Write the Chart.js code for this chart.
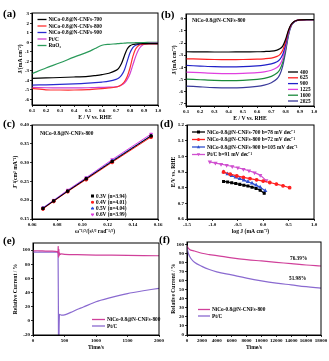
<!DOCTYPE html>
<html>
<head>
<meta charset="utf-8">
<script src="https://cdn.jsdelivr.net/npm/chart.js@4.4.0/dist/chart.umd.min.js"></script>
<style>
body { margin: 0; background: #fff; width: 329px; height: 361px; overflow: hidden; position: relative; }
canvas { position: absolute; left: 0; top: 0; }
</style>
</head>
<body>
<canvas id="pa" width="329" height="361"></canvas>
<canvas id="pb" width="329" height="361"></canvas>
<canvas id="pc" width="329" height="361"></canvas>
<canvas id="pd" width="329" height="361"></canvas>
<canvas id="pe" width="329" height="361"></canvas>
<canvas id="pf" width="329" height="361"></canvas>
<script>
// (a) LSV curves
const A_E = [0.10, 0.20, 0.30, 0.40, 0.50, 0.55, 0.60, 0.65, 0.70, 0.72, 0.74, 0.76, 0.78, 0.80, 0.82, 0.84, 0.86, 0.88, 0.90, 0.95, 1.00]
const A_700 = [-3.80, -3.75, -3.70, -3.65, -3.58, -3.50, -3.40, -3.25, -2.95, -2.70, -2.20, -1.40, -0.70, -0.35, -0.22, -0.17, -0.15, -0.14, -0.13, -0.12, -0.12]
const A_800 = [-4.85, -5.00, -5.02, -5.02, -4.98, -4.92, -4.88, -4.80, -4.70, -4.62, -4.45, -4.15, -3.60, -2.70, -1.50, -0.70, -0.35, -0.22, -0.18, -0.17, -0.17]
const A_900 = [-4.50, -4.47, -4.43, -4.38, -4.30, -4.25, -4.18, -4.08, -3.90, -3.75, -3.45, -2.90, -2.00, -1.10, -0.55, -0.30, -0.20, -0.16, -0.15, -0.14, -0.14]
const A_PTC = [-4.75, -4.78, -4.80, -4.80, -4.78, -4.76, -4.74, -4.72, -4.68, -4.62, -4.50, -4.30, -3.90, -3.30, -2.40, -1.50, -0.80, -0.40, -0.18, -0.08, -0.06]
const A_RUO2 = [-3.30, -2.70, -2.15, -1.55, -1.00, -0.65, -0.30, -0.20, -0.15, -0.12, -0.10, -0.08, -0.06, -0.05, -0.04, -0.03, -0.02, -0.02, -0.01, 0.00, 0.00]
const A_XT = [0.1, 0.2, 0.3, 0.4, 0.5, 0.6, 0.7, 0.8, 0.9, 1.0]
const A_YT = [3, 2, 1, 0, -1, -2, -3, -4, -5, -6]

// (b) rotating speeds
const B_E = [0.10, 0.20, 0.30, 0.40, 0.50, 0.60, 0.65, 0.70, 0.74, 0.76, 0.78, 0.80, 0.82, 0.84, 0.86, 0.88, 0.90, 0.95, 1.00]
const B_400 = [-2.72, -2.73, -2.74, -2.74, -2.73, -2.72, -2.70, -2.67, -2.58, -2.48, -2.25, -1.70, -0.95, -0.45, -0.22, -0.12, -0.08, -0.06, -0.06]
const B_625 = [-3.30, -3.33, -3.36, -3.37, -3.36, -3.33, -3.30, -3.24, -3.10, -2.95, -2.60, -1.90, -1.00, -0.48, -0.23, -0.13, -0.08, -0.06, -0.06]
const B_900 = [-3.85, -3.90, -3.95, -3.97, -3.95, -3.88, -3.82, -3.72, -3.55, -3.35, -2.95, -2.15, -1.10, -0.50, -0.24, -0.13, -0.08, -0.06, -0.06]
const B_1225 = [-4.40, -4.45, -4.50, -4.52, -4.50, -4.45, -4.38, -4.25, -4.02, -3.78, -3.30, -2.35, -1.20, -0.52, -0.25, -0.14, -0.09, -0.06, -0.06]
const B_1600 = [-4.98, -5.03, -5.08, -5.10, -5.08, -5.00, -4.92, -4.75, -4.48, -4.18, -3.60, -2.55, -1.30, -0.55, -0.26, -0.14, -0.09, -0.06, -0.06]
const B_2025 = [-5.55, -5.62, -5.68, -5.70, -5.68, -5.58, -5.48, -5.28, -4.95, -4.60, -3.90, -2.75, -1.40, -0.58, -0.27, -0.15, -0.09, -0.06, -0.06]
const B_YT = [0, -1, -2, -3, -4, -5, -6, -7]

// (c) K-L plots
const C_W = [0.0687, 0.0772, 0.0883, 0.1030, 0.1236, 0.1545]
const C_03 = [0.178, 0.198, 0.224, 0.257, 0.303, 0.371]
const C_04 = [0.177, 0.197, 0.223, 0.255, 0.301, 0.368]
const C_05 = [0.179, 0.199, 0.225, 0.258, 0.305, 0.372]
const C_06 = [0.180, 0.200, 0.227, 0.260, 0.308, 0.376]
const C_XT = [0.06, 0.08, 0.10, 0.12, 0.14, 0.16]
const C_YT = [0.15, 0.20, 0.25, 0.30, 0.35, 0.40]

// (d) Tafel plots
const D_X700 = [-0.78, -0.70, -0.62, -0.54, -0.46, -0.38, -0.30, -0.22, -0.14, -0.06, 0.02]
const D_Y700 = [0.840, 0.836, 0.831, 0.826, 0.821, 0.816, 0.810, 0.803, 0.795, 0.784, 0.764]
const D_X800 = [-0.78, -0.65, -0.52, -0.39, -0.26, -0.13, 0.00, 0.13, 0.26, 0.39, 0.52]
const D_Y800 = [0.900, 0.886, 0.875, 0.866, 0.858, 0.850, 0.842, 0.833, 0.823, 0.812, 0.800]
const D_X900 = [-0.78, -0.70, -0.62, -0.54, -0.46, -0.38, -0.30, -0.22, -0.14, -0.06, 0.04]
const D_Y900 = [0.900, 0.887, 0.876, 0.866, 0.857, 0.848, 0.838, 0.828, 0.816, 0.802, 0.780]
const D_XPTC = [-1.05, -0.94, -0.83, -0.72, -0.61, -0.50, -0.39, -0.28, -0.17, -0.06, 0.06]
const D_YPTC = [0.965, 0.957, 0.950, 0.943, 0.935, 0.927, 0.918, 0.908, 0.896, 0.880, 0.845]
const D_XT = [-1.5, -1.0, -0.5, 0.0, 0.5, 1.0]
const D_YT = [0.6, 0.7, 0.8, 0.9, 1.0, 1.1, 1.2]

// (e) methanol tolerance
const E_T1 = [0, 100, 200, 300, 380, 395, 400, 405, 410, 415, 420, 430, 450, 500, 700, 1000, 1500, 2000]
const E_NICO = [99, 99, 98.5, 98.5, 98, 96, 105, 90, 101, 92, 96, 94, 94.5, 94, 93.5, 93, 92.5, 92]
const E_T2 = [0, 100, 200, 300, 380, 398, 405, 410, 420, 450, 500, 600, 700, 800, 1000, 1200, 1500, 1750, 2000]
const E_PTC = [97, 97, 97, 97, 97, 96, -40, -40, 9, 8, 8.5, 12, 16, 19.5, 27, 32, 38.5, 42.5, 46]
const E_XT = [0, 500, 1000, 1500, 2000]
const E_YT = [-20, 0, 20, 40, 60, 80, 100]

// (f) stability
const F_T = [0, 200, 500, 1000, 2000, 3000, 4000, 6000, 8000, 10000, 12000, 14000, 16000, 18000]
const F_NICO = [99, 96, 94, 93, 90.5, 89, 88, 85.5, 83.5, 82, 80.5, 79, 77.5, 76.4]
const F_PTC = [97, 90, 85, 80.5, 76, 72.5, 70, 66.5, 63, 60, 57.5, 55.5, 53.5, 52]
const F_XT = [0, 2000, 4000, 6000, 8000, 10000, 12000, 14000, 16000, 18000]
const F_YT = [0, 10, 20, 30, 40, 50, 60, 70, 80, 90, 100]

const FONT = "'Liberation Serif', 'Times New Roman', serif"
Chart.defaults.font.family = FONT
Chart.defaults.font.weight = 'bold'
Chart.defaults.font.size = 5
Chart.defaults.color = '#000'
Chart.defaults.animation = false

function pts(xs, ys) {
    return xs.map((x, i) => ({ x: x, y: ys[i] }))
}

function drawMark(ctx, style, x, y, r, color) {
    ctx.fillStyle = color
    ctx.beginPath()
    if (style == 'rect') {
        ctx.rect(x - r, y - r, 2 * r, 2 * r)
    } else if (style == 'circle') {
        ctx.arc(x, y, r, 0, Math.PI * 2)
    } else if (style == 'triangle') {
        ctx.moveTo(x, y - r * 1.2); ctx.lineTo(x + r * 1.1, y + r * 0.8); ctx.lineTo(x - r * 1.1, y + r * 0.8)
    } else if (style == 'triangleDown') {
        ctx.moveTo(x, y + r * 1.2); ctx.lineTo(x + r * 1.1, y - r * 0.8); ctx.lineTo(x - r * 1.1, y - r * 0.8)
    } else {
        return
    }
    ctx.closePath()
    ctx.fill()
}

const deco = {
    id: 'deco',
    afterDraw(chart, args, o) {
        const ctx = chart.ctx
        const a = chart.chartArea
        ctx.save()
        ctx.strokeStyle = '#000'
        ctx.lineWidth = 1
        ctx.strokeRect(a.left, a.top, a.right - a.left, a.bottom - a.top)
        ctx.fillStyle = '#000'
        ctx.textBaseline = 'middle'
        ctx.textAlign = 'left'
        ctx.font = "bold 11px " + FONT
        ctx.fillText(o.tag[0], o.tag[1], o.tag[2])
        ctx.font = "bold 5.3px " + FONT
        ;(o.texts || []).forEach(t => {
            ctx.fillStyle = '#000'
            ctx.fillText(t[0], t[1], t[2])
        })
        const lg = o.legend
        if (lg) {
            chart.data.datasets.forEach((ds, i) => {
                const y = lg.y + i * lg.dy
                if (lg.len > 0) {
                    ctx.strokeStyle = ds.borderColor
                    ctx.lineWidth = 1.3
                    ctx.beginPath()
                    ctx.moveTo(lg.x, y)
                    ctx.lineTo(lg.x + lg.len, y)
                    ctx.stroke()
                }
                if (lg.marks) {
                    const st = ds.rotation == 180 ? 'triangleDown' : ds.pointStyle
                    drawMark(ctx, st, lg.x + lg.len / 2, y, 1.5, ds.borderColor)
                }
                ctx.fillStyle = '#000'
                ctx.fillText(ds.label, lg.x + lg.len + 2, y + 0.3)
            })
        }
        ctx.restore()
    }
}
Chart.register(deco)

function axis(min, max, tickVals, dec, title, fitSize, horizontal) {
    return {
        type: 'linear',
        bounds: 'data',
        min: min,
        max: max,
        afterBuildTicks: s => { s.ticks = tickVals.map(v => ({ value: v })) },
        afterFit: s => {
            if (horizontal) s.height = fitSize
            else s.width = fitSize
        },
        grid: { drawOnChartArea: false, drawTicks: true, tickLength: 2, color: '#000', lineWidth: 0.8 },
        border: { display: true, color: '#000', width: 1 },
        ticks: {
            autoSkip: false, maxRotation: 0, minRotation: 0, padding: 1,
            font: { size: 5, weight: 'bold' },
            callback: v => v.toFixed(dec)
        },
        title: { display: true, text: title, padding: 0, font: { size: 5.6, weight: 'bold' } }
    }
}

function line(label, data, color, extra) {
    return Object.assign({
        label: label, data: data, showLine: true, borderColor: color, backgroundColor: color,
        borderWidth: 1.2, pointRadius: 0, tension: 0.3
    }, extra || {})
}

function panel(id, box, xs, ys, datasets, deco) {
    new Chart(document.getElementById(id), {
        type: 'scatter',
        data: { datasets: datasets },
        options: {
            responsive: false,
            devicePixelRatio: 1,
            layout: { padding: { left: box.l - box.yw, top: box.t, right: 329 - box.r, bottom: 361 - box.b - box.xh } },
            scales: { x: xs, y: ys },
            plugins: { legend: { display: false }, tooltip: { enabled: false }, deco: deco }
        }
    })
}

const XH = 16

// (a)
panel('pa', { l: 32, t: 13, r: 158, b: 105, yw: 15, xh: XH },
    axis(0.1, 1.0, A_XT, 1, 'E / V vs. RHE', XH, true),
    axis(-6.6, 3.1, A_YT, 0, 'J/(mA cm\u207B\u00B2)', 15, false),
    [
        line('NiCo-0.8@N-CNFs-700', pts(A_E, A_700), '#000000'),
        line('NiCo-0.8@N-CNFs-800', pts(A_E, A_800), '#ff3030'),
        line('NiCo-0.8@N-CNFs-900', pts(A_E, A_900), '#2a2ad0'),
        line('Pt/C', pts(A_E, A_PTC), '#d040d0'),
        line('RuO\u2082', pts(A_E, A_RUO2), '#2a9a5a')
    ],
    { tag: ['(a)', 3, 14], legend: { x: 37.5, y: 19.5, dy: 6.5, len: 9 } })

// (b)
panel('pb', { l: 186, t: 14, r: 314, b: 106, yw: 15, xh: XH },
    axis(0.1, 1.0, A_XT, 1, 'E / V vs. RHE', XH, true),
    axis(-7.2, 0.4, B_YT, 0, 'J/(mA cm\u207B\u00B2)', 15, false),
    [
        line('400', pts(B_E, B_400), '#000000'),
        line('625', pts(B_E, B_625), '#ff2020'),
        line('900', pts(B_E, B_900), '#2020c8'),
        line('1225', pts(B_E, B_1225), '#e040e0'),
        line('1600', pts(B_E, B_1600), '#1a8a3a'),
        line('2025', pts(B_E, B_2025), '#3a3a9a')
    ],
    { tag: ['(b)', 161, 15], texts: [['NiCo-0.8@N-CNFs-800', 192, 21]], legend: { x: 288, y: 72, dy: 5.8, len: 10 } })

// (c)
const cOpt = { tension: 0, borderWidth: 1, pointRadius: 1.6 }
panel('pc', { l: 32, t: 125, r: 158, b: 219, yw: 20, xh: XH },
    axis(0.06, 0.16, C_XT, 2, '\u03C9\u207B\u00B9/\u00B2/(s\u00B9/\u00B2 rad\u207B\u00B9/\u00B2)', XH, true),
    axis(0.15, 0.40, C_YT, 2, 'J\u207B\u00B9(cm\u00B2 mA\u207B\u00B9)', 20, false),
    [
        line('0.3V (n=3.94)', pts(C_W, C_03), '#000000', Object.assign({ pointStyle: 'rect' }, cOpt)),
        line('0.4V (n=4.01)', pts(C_W, C_04), '#ff2020', Object.assign({ pointStyle: 'circle' }, cOpt)),
        line('0.5V (n=4.04)', pts(C_W, C_05), '#3050e0', Object.assign({ pointStyle: 'triangle' }, cOpt)),
        line('0.6V (n=3.99)', pts(C_W, C_06), '#e040e0', Object.assign({ pointStyle: 'triangle', rotation: 180 }, cOpt))
    ],
    { tag: ['(c)', 3, 124], texts: [['NiCo-0.8@N-CNFs-800', 40, 134]], legend: { x: 91, y: 196, dy: 6.2, len: 3, marks: true } })

// (d)
const dOpt = { tension: 0, borderWidth: 1.2, pointRadius: 1.3 }
panel('pd', { l: 187, t: 125, r: 314, b: 219, yw: 17, xh: XH },
    axis(-1.5, 1.0, D_XT, 1, 'log J (mA cm\u207B\u00B2)', XH, true),
    axis(0.6, 1.2, D_YT, 1, 'E/V vs. RHE', 17, false),
    [
        line('NiCo-0.8@N-CNFs-700 b=78 mV dec\u207B\u00B9', pts(D_X700, D_Y700), '#000000', Object.assign({ pointStyle: 'rect' }, dOpt)),
        line('NiCo-0.8@N-CNFs-800 b=72 mV dec\u207B\u00B9', pts(D_X800, D_Y800), '#ff2020', Object.assign({ pointStyle: 'circle' }, dOpt)),
        line('NiCo-0.8@N-CNFs-900 b=105 mV dec\u207B\u00B9', pts(D_X900, D_Y900), '#3050d0', Object.assign({ pointStyle: 'triangle' }, dOpt)),
        line('Pt/C b=91 mV dec\u207B\u00B9', pts(D_XPTC, D_YPTC), '#d050d0', Object.assign({ pointStyle: 'triangle', rotation: 180 }, dOpt))
    ],
    { tag: ['(d)', 160, 124], legend: { x: 192, y: 132, dy: 7.5, len: 13, marks: true } })

// (e)
panel('pe', { l: 33, t: 243, r: 159, b: 335, yw: 21, xh: XH },
    axis(0, 2000, E_XT, 0, 'Time/s', XH, true),
    axis(-20, 110, E_YT, 0, 'Relative Current / %', 21, false),
    [
        line('NiCo-0.8@N-CNFs-800', pts(E_T1, E_NICO), '#d0409a', { tension: 0.2, borderWidth: 1.2 }),
        line('Pt/C', pts(E_T2, E_PTC), '#8a6ad0', { tension: 0.2, borderWidth: 1.2 })
    ],
    { tag: ['(e)', 3, 241], legend: { x: 92, y: 319.5, dy: 6.5, len: 13 } })

// (f)
panel('pf', { l: 187, t: 242, r: 321, b: 335, yw: 17, xh: XH },
    axis(0, 18000, F_XT, 0, 'Time/s', XH, true),
    axis(0, 103, F_YT, 0, 'Relative Current / %', 17, false),
    [
        line('NiCo-0.8@N-CNFs-800', pts(F_T, F_NICO), '#d0409a', { tension: 0.4 }),
        line('Pt/C', pts(F_T, F_PTC), '#8a6ad0', { tension: 0.4 })
    ],
    { tag: ['(f)', 159, 240], texts: [['76.39%', 290, 259], ['51.98%', 289, 279]], legend: { x: 198, y: 309.5, dy: 6.5, len: 12 } })
</script>
</body>
</html>
